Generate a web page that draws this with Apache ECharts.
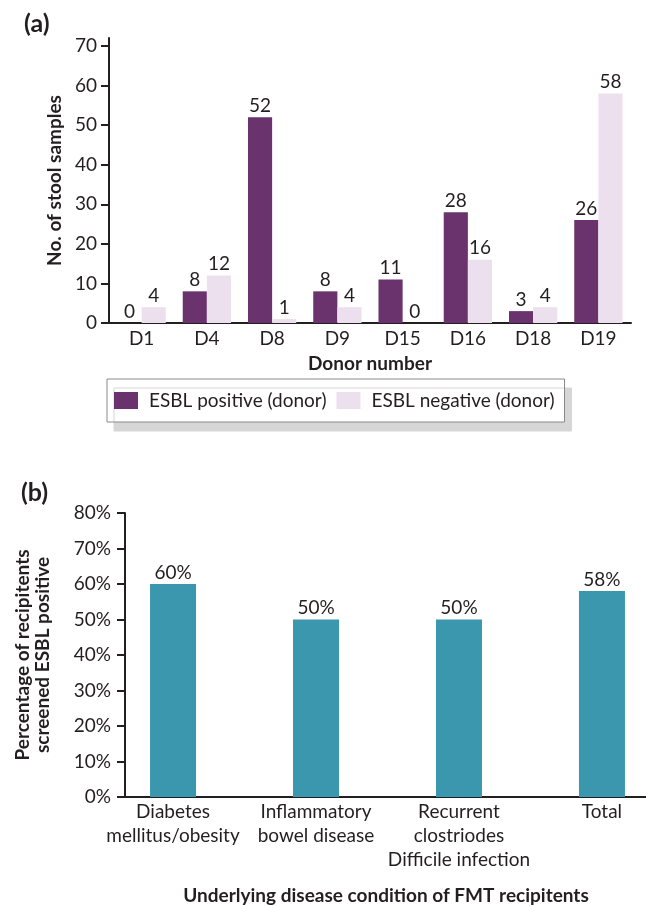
<!DOCTYPE html>
<html><head><meta charset="utf-8">
<script src="https://cdn.jsdelivr.net/npm/echarts@6/dist/echarts.min.js"></script>
<style>html,body{margin:0;padding:0;background:#fff}#c{width:646px;height:906px}</style>
</head><body><div id="c"></div>
<script>
const donors = ['D1','D4','D8','D9','D15','D16','D18','D19'];
const esblPositive = [0,8,52,8,11,28,3,26];
const esblNegative = [4,12,1,4,0,16,4,58];
const countTicks = [0,10,20,30,40,50,60,70];
const conditions = ['Diabetes\nmellitus/obesity','Inflammatory\nbowel disease','Recurrent\nclostriodes\nDifficile infection','Total'];
const percentPositive = [60,50,50,58];
const percentTicks = [0,10,20,30,40,50,60,70,80];

const FONT = 'Lato';
const INK = '#231f20';
const FS = 19;
const chart = echarts.init(document.getElementById('c'), null, {renderer:'canvas'});
const axisLine = {show:true, onZero:false, lineStyle:{color:INK, width:2}};
chart.setOption({
  animation:false,
  textStyle:{fontFamily:FONT, color:INK},
  graphic:[
    {type:'text', left:24, top:11, style:{text:'(a)', font:'bold 25px '+FONT, fill:INK}},
    {type:'text', left:21, top:480, style:{text:'(b)', font:'bold 25px '+FONT, fill:INK}},
    {type:'text', x:386, y:896, style:{text:'Underlying disease condition of FMT recipitents', font:'bold 19px '+FONT, fill:INK, align:'center', verticalAlign:'middle'}}
  ],
  legend:{
    left:107, top:379, orient:'horizontal',
    padding:[12,10,12,7], itemGap:10, itemWidth:24, itemHeight:17, icon:'rect',
    backgroundColor:'#fff', borderColor:'#8a8a8a', borderWidth:1,
    shadowColor:'#d6d6d6', shadowOffsetX:7, shadowOffsetY:9, shadowBlur:0,
    textStyle:{fontSize:FS, color:INK, fontFamily:FONT, padding:[0,0,0,6]},
    data:['ESBL positive (donor)','ESBL negative (donor)']
  },
  grid:[
    {left:109, right:15, top:38, bottom:583},
    {left:125, right:0, top:513, bottom:109}
  ],
  xAxis:[
    {gridIndex:0, type:'category', data:donors, axisLine:axisLine, axisTick:{show:false},
     axisLabel:{fontSize:FS, color:INK, margin:6},
     name:'Donor number', nameLocation:'middle', nameGap:31,
     nameTextStyle:{fontSize:19, fontWeight:'bold', color:INK}},
    {gridIndex:1, type:'value', min:-0.336, max:3.308, axisLine:axisLine, axisTick:{show:false},
     splitLine:{show:false},
     axisLabel:{customValues:[0,1,2,3], fontSize:FS, color:INK, margin:3, lineHeight:24,
       formatter:v => conditions[Math.round(v)]}}
  ],
  yAxis:[
    {gridIndex:0, type:'value', min:0, max:72, axisLine:axisLine,
     axisTick:{show:true, customValues:countTicks, length:8, lineStyle:{color:INK, width:2}},
     axisLabel:{customValues:countTicks, fontSize:FS, color:INK, margin:12},
     splitLine:{show:false},
     name:'No. of stool samples', nameLocation:'middle', nameGap:42,
     nameTextStyle:{fontSize:19, fontWeight:'bold', color:INK}},
    {gridIndex:1, type:'value', min:0, max:80, interval:10, axisLine:axisLine,
     axisTick:{show:true, customValues:percentTicks, length:8, lineStyle:{color:INK, width:2}},
     axisLabel:{customValues:percentTicks, fontSize:FS, color:INK, margin:14, formatter:'{value}%'},
     splitLine:{show:false},
     name:'Percentage of recipitents\nscreened ESBL positive', nameLocation:'middle', nameGap:72,
     nameTextStyle:{fontSize:19, fontWeight:'bold', color:INK, lineHeight:20}}
  ],
  series:[
    {name:'ESBL positive (donor)', type:'bar', xAxisIndex:0, yAxisIndex:0, data:esblPositive,
     barGap:'0%', barCategoryGap:'26%', itemStyle:{color:'#6a336e'},
     label:{show:true, position:'top', distance:2, fontSize:FS, color:INK}},
    {name:'ESBL negative (donor)', type:'bar', xAxisIndex:0, yAxisIndex:0, data:esblNegative,
     barGap:'0%', barCategoryGap:'26%', itemStyle:{color:'#ede0ee'},
     label:{show:true, position:'top', distance:2, fontSize:FS, color:INK}},
    {name:'Recipients', type:'bar', xAxisIndex:1, yAxisIndex:1,
     data:percentPositive.map((v,i)=>[i,v]), barWidth:46, itemStyle:{color:'#3a97ae'},
     label:{show:true, position:'top', distance:2, fontSize:FS, color:INK, formatter:p=>p.value[1]+'%'}}
  ]
});
</script></body></html>
